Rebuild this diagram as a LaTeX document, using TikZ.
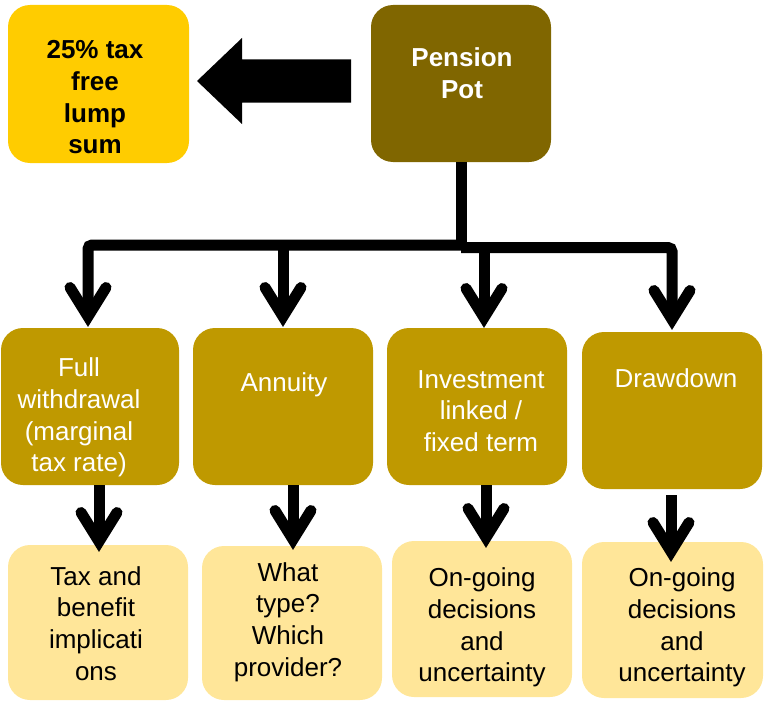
\documentclass[tikz,border=0pt]{standalone}
\usepackage{fontspec}
\setmainfont{Liberation Sans}
\definecolor{potc}{HTML}{806600}
\definecolor{lumpc}{HTML}{FFCC00}
\definecolor{optc}{HTML}{BF9900}
\definecolor{outc}{HTML}{FFE699}
\tikzset{
  box/.style={rectangle, rounded corners=22pt, inner sep=0pt, draw=none},
  txt/.style={inner sep=0pt, align=center, font=\fontsize{26}{31.7}\selectfont},
  btxt/.style={txt, font=\fontsize{26}{31.7}\selectfont\bfseries},
  conn/.style={line width=11pt, draw=black},
  chev/.pic={\draw[line width=11pt, line cap=round, line join=miter] (-18,-29) -- (0,0) -- (18,-29);}
}
\begin{document}
\begin{tikzpicture}[x=1pt, y=-1pt]
\useasboundingbox (0,0) rectangle (765,701);
% top row
\node[box, fill=lumpc, minimum width=181pt, minimum height=158pt] (lump) at (98.5,84) {};
\node[box, fill=potc, minimum width=180pt, minimum height=157pt] (pot) at (461,83.5) {};
% option row
\node[box, fill=optc, minimum width=178pt, minimum height=157pt] (full) at (90,406.5) {};
\node[box, fill=optc, minimum width=180pt, minimum height=157pt] (ann) at (283,406.5) {};
\node[box, fill=optc, minimum width=180pt, minimum height=157pt] (inv) at (477,406.5) {};
\node[box, fill=optc, minimum width=180pt, minimum height=157pt] (draw) at (672,410.5) {};
% outcome row
\node[box, fill=outc, minimum width=180pt, minimum height=155pt] (tax) at (98,622.5) {};
\node[box, fill=outc, minimum width=180pt, minimum height=154pt] (what) at (292,623) {};
\node[box, fill=outc, minimum width=180pt, minimum height=156pt] (ong1) at (482,619) {};
\node[box, fill=outc, minimum width=181pt, minimum height=156pt] (ong2) at (672.5,620) {};

% big arrow from pot to lump sum
\coordinate (bt) at (197,81);
\fill[black] (bt) -- (242,38) -- (242,59.3) -- (351,59.3) -- (351,102.7) -- (242,102.7) -- (242,124) -- cycle;

% branch connectors
\coordinate (jl) at (461,245);
\coordinate (jr) at (461,247.5);
\coordinate (v1) at (88,316.5);
\coordinate (v2) at (283,316.5);
\coordinate (v3) at (484,317.5);
\coordinate (v4) at (672,319.5);
\draw[conn] (pot.south) -- (jr);
\draw[conn, rounded corners=4pt] (jl) -| (v1);
\draw[conn] (jl -| v2) -- (v2);
\draw[conn, rounded corners=4pt] (jr) -| (v4);
\draw[conn] (jr -| v3) -- (v3);
\pic at (v1) {chev};
\pic at (v2) {chev};
\pic at (v3) {chev};
\pic at (v4) {chev};

% lower connectors
\coordinate (w1) at (99,541.5);
\coordinate (w2) at (293,539.5);
\coordinate (w3) at (486,537.5);
\coordinate (w4) at (671,551.5);
\coordinate (s4) at (671,495);
\draw[conn] (full.south -| w1) -- (w1);
\draw[conn] (ann.south -| w2) -- (w2);
\draw[conn] (inv.south -| w3) -- (w3);
\draw[conn] (s4) -- (w4);
\pic at (w1) {chev};
\pic at (w2) {chev};
\pic at (w3) {chev};
\pic at (w4) {chev};

% texts
\node[btxt, text=black] (lumpt) at (95,100) {\strut 25\% tax\\free\\lump\\sum\strut};
\node[btxt, text=white] (pott) at (462,76.5) {\strut Pension\\Pot\strut};
\node[txt, text=white] (fullt) at (79,418) {\strut Full\\withdrawal\\(marginal\\tax rate)\strut};
\node[txt, text=white] (annt) at (284,385) {\strut Annuity\strut};
\node[txt, text=white] (invt) at (481,413.5) {\strut Investment\\linked /\\fixed term\strut};
\node[txt, text=white] (drawt) at (676,381) {\strut Drawdown\strut};
\node[txt, text=black] (taxt) at (96,626.5) {\strut Tax and\\benefit\\implicati\\ons\strut};
\node[txt, text=black] (whatt) at (288,622.5) {\strut What\\type?\\Which\\provider?\strut};
\node[txt, text=black] (ong1t) at (482,628) {\strut On-going\\decisions\\and\\uncertainty\strut};
\node[txt, text=black] (ong2t) at (682,628) {\strut On-going\\decisions\\and\\uncertainty\strut};
\end{tikzpicture}
\end{document}
